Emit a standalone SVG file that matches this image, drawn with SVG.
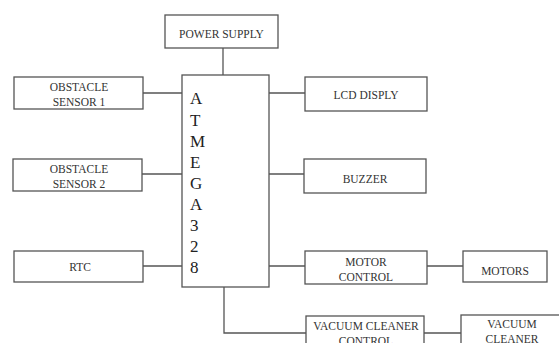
<svg xmlns="http://www.w3.org/2000/svg" width="559" height="343" viewBox="0 0 559 343">
<style>
rect{fill:#fff;stroke:#555;stroke-width:1.3}
.c line,.c polyline{stroke:#555;stroke-width:1.3;fill:none}
text{font-family:"Liberation Serif","Times New Roman",serif;fill:#333;font-size:11.5px;text-anchor:middle}
.big{font-size:17px;text-anchor:start;fill:#222}
</style>
<rect x="0" y="0" width="559" height="343" style="stroke:none;fill:#fff"/>
<g class="c">
<line x1="223" y1="48" x2="223" y2="75"/>
<line x1="143" y1="93" x2="182" y2="93"/>
<line x1="142" y1="174" x2="182" y2="174"/>
<line x1="143" y1="266" x2="182" y2="266"/>
<line x1="269" y1="93" x2="305" y2="93"/>
<line x1="269" y1="174" x2="304" y2="174"/>
<line x1="269" y1="266" x2="305" y2="266"/>
<line x1="427" y1="266" x2="463" y2="266"/>
<polyline points="224,287 224,333 306,333"/>
<line x1="424" y1="333" x2="461" y2="333"/>
</g>
<g id="power"><rect x="165" y="15" width="113" height="33"/><text x="221.5" y="38">POWER SUPPLY</text></g>
<g id="atmega"><rect x="182" y="75" width="87" height="212"/>
<text class="big" x="190" y="104">A</text>
<text class="big" x="190" y="126">T</text>
<text class="big" x="190" y="147">M</text>
<text class="big" x="190" y="168">E</text>
<text class="big" x="190" y="189">G</text>
<text class="big" x="190" y="210">A</text>
<text class="big" x="190" y="231">3</text>
<text class="big" x="190" y="252">2</text>
<text class="big" x="190" y="273">8</text>
</g>
<g id="obs1"><rect x="14" y="77" width="129" height="32"/><text x="79" y="91">OBSTACLE</text><text x="79" y="106">SENSOR 1</text></g>
<g id="obs2"><rect x="13" y="159" width="129" height="32"/><text x="79" y="172.5">OBSTACLE</text><text x="79" y="188">SENSOR 2</text></g>
<g id="rtc"><rect x="14" y="251" width="129" height="31"/><text x="80" y="271">RTC</text></g>
<g id="lcd"><rect x="305" y="77" width="122" height="34"/><text x="366" y="99">LCD DISPLY</text></g>
<g id="buzzer"><rect x="304" y="159" width="122" height="34"/><text x="365" y="182.5">BUZZER</text></g>
<g id="motorctl"><rect x="305" y="251" width="122" height="33"/><text x="366" y="266">MOTOR</text><text x="366" y="281">CONTROL</text></g>
<g id="motors"><rect x="463" y="251" width="84" height="31"/><text x="505" y="274.5">MOTORS</text></g>
<g id="vacctl"><rect x="306" y="316" width="118" height="40"/><text x="366" y="330">VACUUM CLEANER</text><text x="366" y="345">CONTROL</text></g>
<g id="vac"><rect x="461" y="315" width="110" height="40"/><text x="512" y="327.5">VACUUM</text><text x="512" y="342.5">CLEANER</text></g>
</svg>
